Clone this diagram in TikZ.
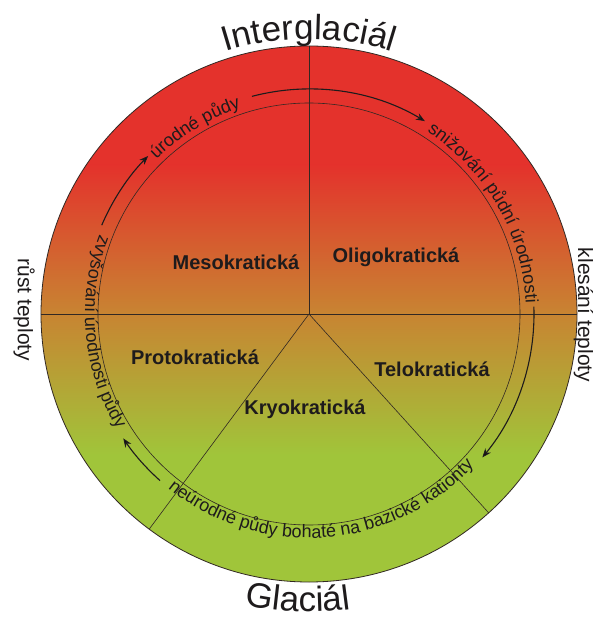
\documentclass[tikz,border=0pt]{standalone}
\usepackage{fontspec}
\setmainfont{Liberation Sans}
\usetikzlibrary{decorations.text,arrows.meta}
\definecolor{cred}{RGB}{228,50,44}
\definecolor{corange}{RGB}{200,132,50}
\definecolor{cgreen}{RGB}{160,197,58}
\definecolor{cline}{RGB}{50,40,35}
\definecolor{ctext}{RGB}{30,27,28}
\newcommand\curvefont{\fontsize{18}{18}\selectfont}
\newcommand\bigcurvefont{\fontsize{35}{35}\selectfont}
\tikzset{
  sector/.style={draw=cline,line width=0.6pt},
  rim/.style={draw=cline,line width=0.8pt},
  cyclearrow/.style={draw=ctext,line width=1.1pt,-{Stealth[length=9pt,width=7pt]}},
  zone/.style={font=\fontsize{20}{24}\selectfont\bfseries,text=ctext,inner sep=0pt},
  sidelabel/.style={font=\fontsize{21}{24}\selectfont,text=ctext,rotate=-90,anchor=base,inner sep=0pt},
  curve/.style={decorate,decoration={text along path,text align=center,text color=ctext,text={#1}}},
}
\begin{document}
\begin{tikzpicture}[x=1pt,y=1pt]
\useasboundingbox[fill=white] (-309,-303) rectangle (283,314);
% shaded disc
\begin{scope}
  \clip (0,0) circle (268);
  \fill[cred] (-270,148) rectangle (270,270);
  \shade[top color=cred,bottom color=corange] (-270,0.5) rectangle (270,149);
  \shade[top color=corange,bottom color=cgreen] (-270,-141) rectangle (270,1);
  \fill[cgreen] (-270,-270) rectangle (270,-140);
\end{scope}
% sector boundaries
\coordinate (c) at (0,0);
\coordinate (w) at (180:268);
\coordinate (e) at (0:268);
\coordinate (n) at (90:268);
\coordinate (sw) at (233.4:268);
\coordinate (se) at (312.1:268);
\draw[sector] (w) -- (e);
\draw[sector] (c) -- (n);
\draw[sector] (c) -- (sw);
\draw[sector] (c) -- (se);
\draw[sector] (c) circle (211);
\draw[rim] (c) circle (268);
% zone labels
\node[zone] (meso) at (-73,52) {Mesokratická};
\node[zone] (oligo) at (87,57) {Oligokratická};
\node[zone] (proto) at (-114,-43) {Protokratická};
\node[zone] (telo) at (123,-55) {Telokratická};
\node[zone] (kryo) at (-4,-95) {Kryokratická};
% side labels
\node[sidelabel] (rust) at (-291,4) {růst teploty};
\node[sidelabel] (kles) at (269,-1) {klesání teploty};
% curved texts
\path[curve={|\bigcurvefont|Interglaciál}] (115:275) arc[start angle=115,end angle=65,radius=275];
\path[curve={|\bigcurvefont|Glaciál}] (247.8:298) arc[start angle=247.8,end angle=287.8,radius=298];
\path[curve={|\curvefont|úrodné půdy}] (150:217) arc[start angle=150,end angle=93,radius=217];
\path[curve={|\curvefont|snižování půdní úrodnosti}] (75:217) arc[start angle=75,end angle=-15,radius=217];
\path[curve={|\curvefont|neúrodné půdy bohaté na bazické kationty}] (205:224) arc[start angle=205,end angle=343.4,radius=224];
\path[curve={|\curvefont|zvyšování úrodnosti půdy}] (135:224) arc[start angle=135,end angle=235.2,radius=224];
% cycle arrows
\draw[cyclearrow] (104.7:225) arc[start angle=104.7,end angle=59,radius=225];
\draw[cyclearrow] (1.9:225) arc[start angle=1.9,end angle=-39.6,radius=225];
\draw[cyclearrow] (228.2:223.5) arc[start angle=228.2,end angle=213.8,radius=223.5];
\draw[cyclearrow] (156.8:225.5) arc[start angle=156.8,end angle=135.5,radius=225.5];
\end{tikzpicture}
\end{document}
